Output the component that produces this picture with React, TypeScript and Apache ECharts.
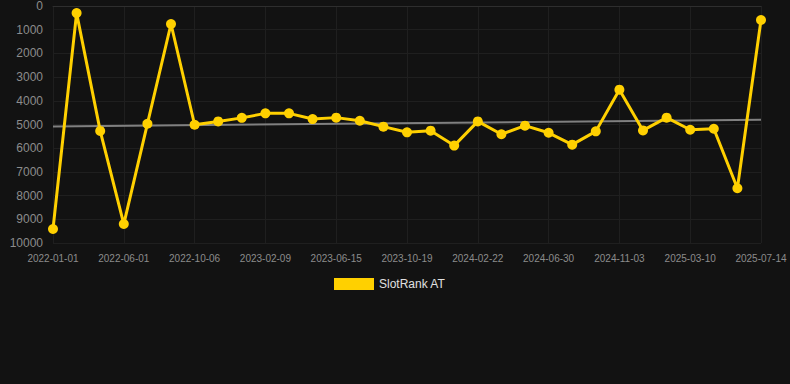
import React, { useEffect, useRef } from "react";
import * as echarts from "echarts";

const categories = [
  "2022-01-01", "2022-02-20", "2022-04-11",
  "2022-06-01", "2022-07-13", "2022-08-24",
  "2022-10-06", "2022-11-17", "2022-12-29",
  "2023-02-09", "2023-03-23", "2023-05-04",
  "2023-06-15", "2023-07-27", "2023-09-07",
  "2023-10-19", "2023-11-30", "2024-01-11",
  "2024-02-22", "2024-04-04", "2024-05-18",
  "2024-06-30", "2024-08-11", "2024-09-22",
  "2024-11-03", "2024-12-15", "2025-01-26",
  "2025-03-10", "2025-04-21", "2025-06-02",
  "2025-07-14",
];

const slotRankValues = [
  9410, 300, 5270, 9200, 4970, 760, 5010, 4870, 4720, 4530, 4530,
  4770, 4710, 4840, 5090, 5330, 5260, 5890, 4870, 5410, 5050,
  5350, 5850, 5290, 3530, 5250, 4710, 5220, 5180, 7690, 590,
];

const trendValues = [5085, 4800];

const yTicks = { min: 0, max: 10000, interval: 1000 };

export default function App() {
  const ref = useRef<HTMLDivElement>(null);
  useEffect(() => {
    document.body.style.margin = "0";
    document.body.style.background = "#121212";
    if (!ref.current) return;
    const chart = echarts.init(ref.current, null, { renderer: "svg" });
    chart.setOption({
      animation: false,
      backgroundColor: "#121212",
      grid: { left: 53, right: 29, top: 6, bottom: 141, containLabel: false },
      legend: {
        data: ["SlotRank AT"],
        top: 273,
        left: 329,
        itemWidth: 40,
        itemHeight: 12,
        itemGap: 10,
        icon: "rect",
        textStyle: { color: "#e0e0e0", fontSize: 12, fontFamily: "Arial, Liberation Sans, sans-serif" },
      },
      xAxis: {
        type: "category",
        data: categories,
        boundaryGap: false,
        axisLine: { lineStyle: { color: "#2e2e2e" } },
        axisTick: { show: false },
        axisLabel: {
          interval: 2,
          color: "#8c8c8c",
          fontSize: 10,
          margin: 10,
          fontFamily: "Arial, Liberation Sans, sans-serif",
        },
        splitLine: { show: true, interval: 2, lineStyle: { color: "#1f1f1f" } },
      },
      yAxis: {
        type: "value",
        inverse: true,
        min: yTicks.min,
        max: yTicks.max,
        interval: yTicks.interval,
        axisLine: { show: false },
        axisTick: { show: false },
        axisLabel: {
          color: "#8c8c8c",
          fontSize: 12,
          margin: 10,
          formatter: (v: number) => String(v),
          fontFamily: "Arial, Liberation Sans, sans-serif",
        },
        splitLine: { lineStyle: { color: "#1f1f1f" } },
      },
      series: [
        {
          name: "SlotRank AT",
          type: "line",
          data: slotRankValues,
          color: "#FFD000",
          symbol: "circle",
          symbolSize: 10,
          lineStyle: { width: 3, color: "#FFD000" },
          itemStyle: { color: "#FFD000" },
          z: 3,
          markLine: {
            silent: true,
            symbol: "none",
            label: { show: false },
            lineStyle: { color: "#808080", width: 2, type: "solid" },
            data: [
              [
                { coord: [categories[0], trendValues[0]] },
                { coord: [categories[categories.length - 1], trendValues[1]] },
              ],
            ],
            z: 2,
          },
        },
      ],
    });
    return () => chart.dispose();
  }, []);
  return <div ref={ref} style={{ width: 790, height: 384 }} />;
}
